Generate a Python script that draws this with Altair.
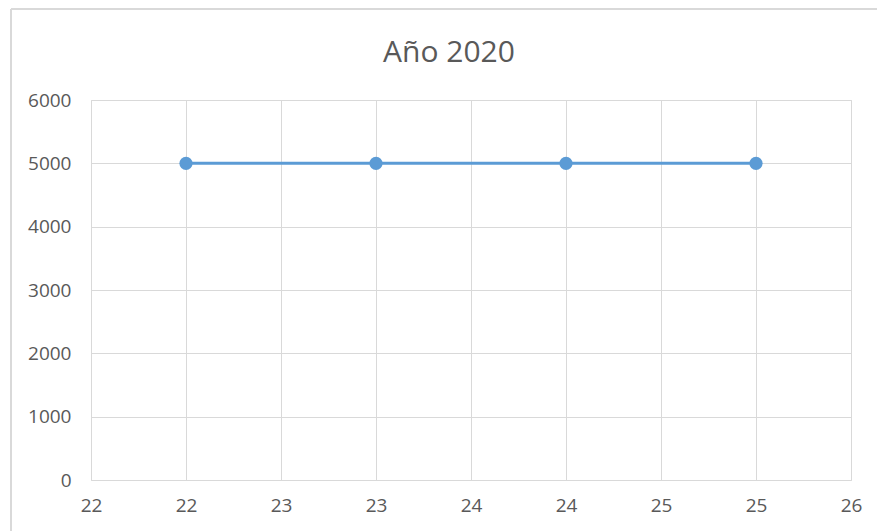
import altair as alt
import pandas as pd

# Series values
dias = [22, 23, 24, 25]
importes = [5000, 5000, 5000, 5000]

# Axis ticks
x_ticks = [21.5, 22, 22.5, 23, 23.5, 24, 24.5, 25, 25.5]
y_ticks = [0, 1000, 2000, 3000, 4000, 5000, 6000]

df = pd.DataFrame({"dia": dias, "importe": importes})

FONT = "Open Sans"
GRID = "#d9d9d9"
TEXT = "#595959"
BLUE = "#5b9bd5"

x_enc = alt.X(
    "dia:Q",
    scale=alt.Scale(domain=[21.5, 25.5], nice=False, zero=False),
    axis=alt.Axis(
        values=x_ticks,
        labelExpr="round(datum.value)",
        title=None,
        domain=False,
        ticks=False,
        gridColor=GRID,
        labelColor=TEXT,
        labelFont=FONT,
        labelFontSize=19,
        labelPadding=16,
        labelFlush=False,
    ),
)
y_enc = alt.Y(
    "importe:Q",
    scale=alt.Scale(domain=[0, 6000], nice=False),
    axis=alt.Axis(
        values=y_ticks,
        format="d",
        title=None,
        domain=False,
        ticks=False,
        gridColor=GRID,
        labelColor=TEXT,
        labelFont=FONT,
        labelFontSize=19,
        labelPadding=20,
    ),
)

base = alt.Chart(df).encode(x=x_enc, y=y_enc)
line = base.mark_line(color=BLUE, strokeWidth=3)
points = base.mark_circle(color=BLUE, size=175, opacity=1)

# Outer chart frame (top and left edges)
frame_top = alt.Chart(df).mark_rule(color=GRID, strokeWidth=2).encode(
    x=alt.value(-80), x2=alt.value(800), y=alt.value(-91)
)
frame_left = alt.Chart(df).mark_rule(color=GRID, strokeWidth=2).encode(
    x=alt.value(-80), y=alt.value(-91), y2=alt.value(440)
)

chart = (
    alt.layer(frame_top, frame_left, line, points)
    .properties(
        width=760,
        height=380,
        autosize="none",
        padding={"left": 91, "top": 100, "right": 26, "bottom": 51},
        title=alt.TitleParams(
            "Año 2020",
            font=FONT,
            fontSize=30,
            fontWeight="normal",
            color=TEXT,
            anchor="middle",
            frame="group",
            baseline="alphabetic",
            offset=0,
            dy=84,
            dx=-22,
        ),
    )
    .configure_view(stroke=GRID)
    .configure(background="white")
)

chart.save("out.html", embed_options={"renderer": "svg", "actions": False})
